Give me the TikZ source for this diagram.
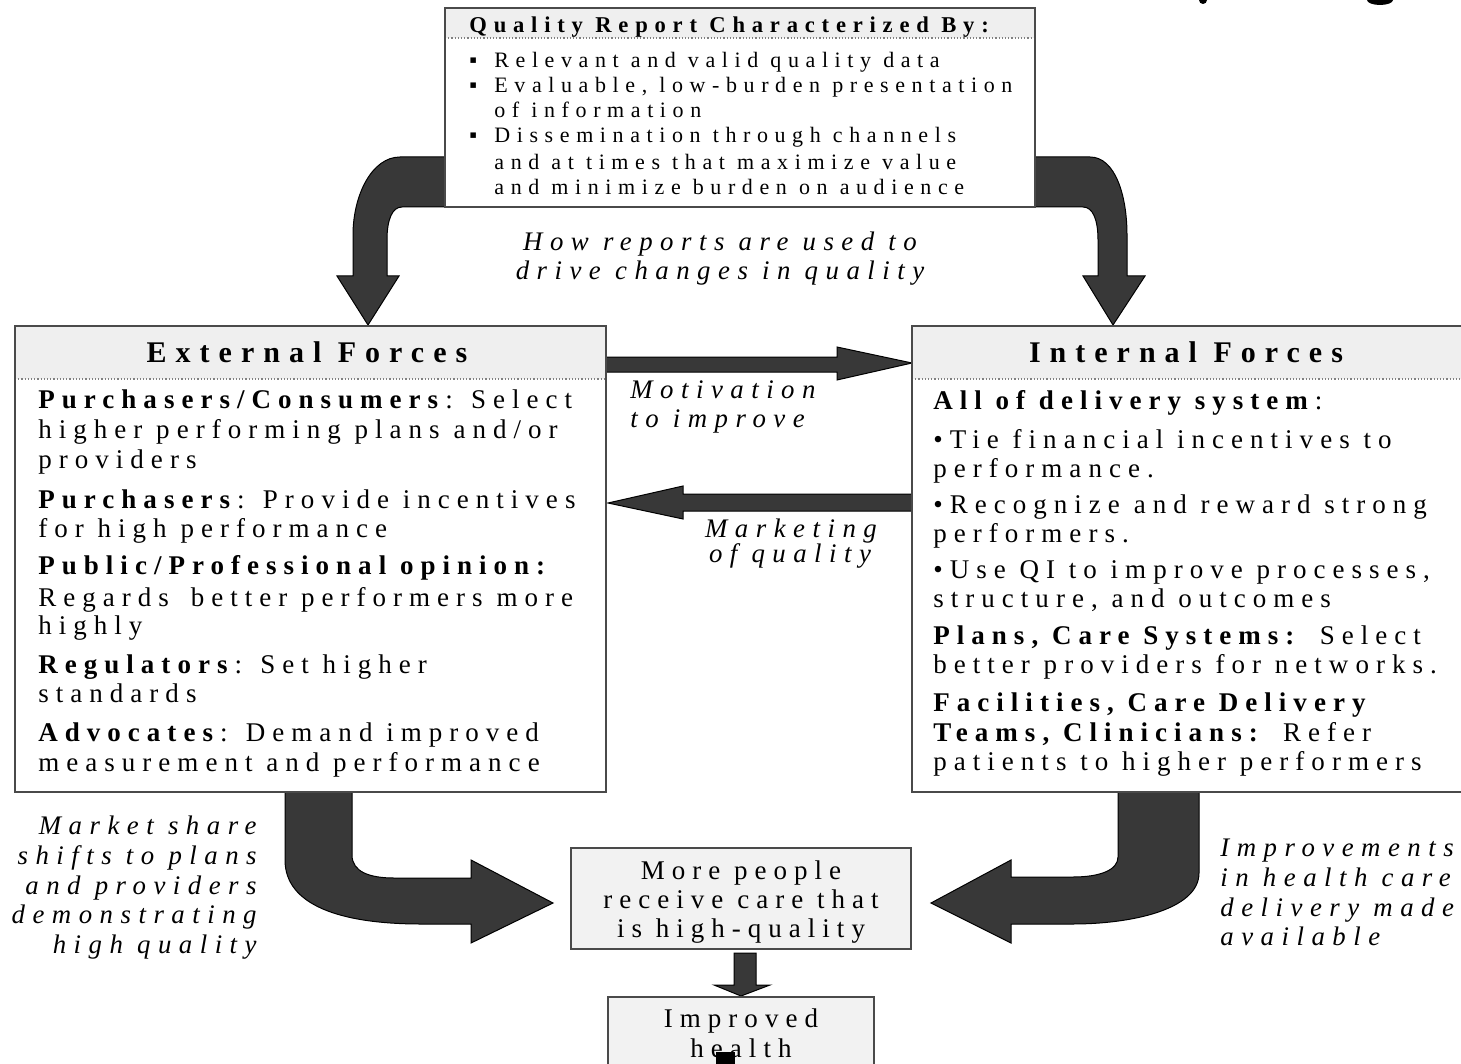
\documentclass[tikz,border=0pt]{standalone}
\usepackage{fontspec}
\setmainfont{Liberation Serif}
\newfontfamily\bodyf{Liberation Serif}[LetterSpace=26]
\newfontfamily\topf{Liberation Serif}[LetterSpace=30]
\newfontfamily\headf{Liberation Serif}[LetterSpace=30]
\newfontfamily\itf{Liberation Serif}[LetterSpace=28]
\definecolor{arrowgray}{HTML}{383838}
\definecolor{bandgray}{HTML}{EFEFEF}
\definecolor{boxline}{HTML}{4A4A4A}
\definecolor{boxfill}{HTML}{F2F2F2}
\begin{document}
\begin{tikzpicture}[x=0.5pt,y=-0.5pt,
  bigarrow/.style={fill=arrowgray,draw=black,line width=0.5pt},
  frame/.style={draw=boxline,line width=1pt},
  band/.style={fill=bandgray},
  sep/.style={draw=gray,densely dotted,line width=0.6pt},
  ln/.style={anchor=base west,inner sep=0pt,font=\bodyf\fontsize{13.5}{16}\selectfont},
  tl/.style={anchor=base west,inner sep=0pt,font=\topf\fontsize{11}{13}\selectfont},
  hd/.style={anchor=base,inner sep=0pt,font=\headf\bfseries\fontsize{15}{17}\selectfont},
  labw/.style={anchor=base west,inner sep=0pt,font=\itf\itshape\fontsize{13.4}{16}\selectfont},
  labe/.style={anchor=base east,inner sep=0pt,font=\itf\itshape\fontsize{13.4}{16}\selectfont},
  labc/.style={anchor=base,inner sep=0pt,font=\itf\itshape\fontsize{13.4}{16}\selectfont},
  ctr/.style={anchor=base,inner sep=0pt,font=\bodyf\fontsize{13.5}{16}\selectfont}]
\useasboundingbox (0,0) rectangle (1461,1064);
\clip (0,0) rectangle (1461,1064);
\fill[white] (0,0) rectangle (1461,1064);

% cut-off marks at top right
\fill (1203,0) ellipse (4 and 4);
\fill (1380,0) ellipse (13 and 5);

% ---------- big arrows ----------
% top left
\path[bigarrow] (447,157) -- (400,157) .. controls (372,157) and (353,195) .. (353,235)
  -- (353,276) -- (337,276) -- (368,325) -- (399,276) -- (387,276) -- (387,240)
  .. controls (387,220) and (392,207) .. (402,207) -- (447,207) -- cycle;
% top right
\path[bigarrow] (1033,157) -- (1090,157) .. controls (1115,157) and (1127,195) .. (1127,235)
  -- (1127,276) -- (1145,276) -- (1113,325) -- (1083,276) -- (1098,276) -- (1098,240)
  .. controls (1098,220) and (1093,207) .. (1083,207) -- (1033,207) -- cycle;
% motivation
\path[bigarrow] (606,357) -- (837,357) -- (837,347) -- (912,363) -- (837,380) -- (837,372) -- (606,372) -- cycle;
% marketing
\path[bigarrow] (912,494) -- (683,494) -- (683,486) -- (608,503) -- (683,519) -- (683,511) -- (912,511) -- cycle;
% bottom left
\path[bigarrow] (285,792) -- (285,860) .. controls (285,905) and (340,924) .. (421,924)
  -- (471,924) -- (471,943) -- (553,903) -- (471,860) -- (471,878) -- (394,878)
  .. controls (370,878) and (352,872) .. (352,855) -- (352,792) -- cycle;
% bottom right
\path[bigarrow] (1199,792) -- (1199,873) .. controls (1199,910) and (1130,924) .. (1073,924)
  -- (1011,924) -- (1011,943) -- (931,903) -- (1011,860) -- (1011,877) -- (1073,877)
  .. controls (1100,877) and (1118,870) .. (1118,857) -- (1118,792) -- cycle;
% small down arrow
\path[bigarrow] (734,953) -- (756,953) -- (756,985) -- (770,985) -- (741,996) -- (714,985) -- (734,985) -- cycle;

% ---------- top box ----------
\fill[white] (445,8) rectangle (1035,207);
\fill[band] (445,8) rectangle (1035,38);
\draw[sep] (445,38) -- (1035,38);
\draw[frame] (445,8) rectangle (1035,207);
\node[anchor=base west,inner sep=0pt,font=\topf\bfseries\fontsize{11.3}{13}\selectfont] (qtitle) at (469,33) {Quality Report Characterized By:};
\node[tl] (qb1) at (469,68) {▪};
\node[tl] (qb2) at (469,93) {▪};
\node[tl] (qb3) at (469,143) {▪};
\node[tl] (q1) at (494,68) {Relevant and valid quality data};
\node[tl] (q2) at (494,93) {Evaluable, low-burden presentation};
\node[tl] (q3) at (494,118) {of information};
\node[tl] (q4) at (494,143) {Dissemination through channels};
\node[tl] (q5) at (494,170) {and at times that maximize value};
\node[tl] (q6) at (494,195) {and minimize burden on audience};

% ---------- external forces ----------
\fill[white] (15,326) rectangle (606,792);
\fill[band] (15,326) rectangle (606,379);
\draw[sep] (15,379) -- (606,379);
\draw[frame] (15,326) rectangle (606,792);
\node[hd] (extitle) at (307,362) {External Forces};
\node[ln] (e1) at (38,408) {\textbf{Purchasers/Consumers}: Select};
\node[ln] (e2) at (38,438) {higher performing plans and/or};
\node[ln] (e3) at (38,468) {providers};
\node[ln] (e4) at (38,508) {\textbf{Purchasers}: Provide incentives};
\node[ln] (e5) at (38,537) {for high performance};
\node[ln] (e6) at (38,574) {\textbf{Public/Professional opinion:}};
\node[ln] (e7) at (38,606) {Regards\hspace{4pt} better performers more};
\node[ln] (e8) at (38,634) {highly};
\node[ln] (e9) at (38,673) {\textbf{Regulators}: Set higher};
\node[ln] (e10) at (38,702) {standards};
\node[ln] (e11) at (38,741) {\textbf{Advocates}: Demand improved};
\node[ln] (e12) at (38,771) {measurement and performance};

% ---------- internal forces ----------
\fill[white] (912,326) rectangle (1480,792);
\fill[band] (912,326) rectangle (1480,379);
\draw[sep] (912,379) -- (1480,379);
\draw[frame] (912,326) rectangle (1480,792);
\node[hd] (intitle) at (1186,362) {Internal Forces};
\node[ln] (i1) at (933,409) {\textbf{All of delivery system}:};
\node[ln] (i2) at (933,448) {•Tie financial incentives to};
\node[ln] (i3) at (933,477) {performance.};
\node[ln] (i4) at (933,513) {•Recognize and reward strong};
\node[ln] (i5) at (933,542) {performers.};
\node[ln] (i6) at (933,578) {•Use QI to improve processes,};
\node[ln] (i7) at (933,607) {structure, and outcomes};
\node[ln] (i8) at (933,644) {\textbf{Plans, Care Systems:} Select};
\node[ln] (i9) at (933,673) {better providers for networks.};
\node[ln] (i10) at (933,711) {\textbf{Facilities, Care Delivery}};
\node[ln] (i11) at (933,741) {\textbf{Teams, Clinicians:} Refer};
\node[ln] (i12) at (933,770) {patients to higher performers};

% ---------- outcome boxes ----------
\draw[frame,fill=boxfill] (571,848) rectangle (911,949);
\node[ctr] (m1) at (741,879) {More people};
\node[ctr] (m2) at (741,908) {receive care that};
\node[ctr] (m3) at (741,937) {is high-quality};
\draw[frame,fill=boxfill] (608,997) rectangle (874,1090);
\node[ctr] (h1) at (741,1027) {Improved};
\node[ctr] (h2) at (741,1057) {health};
\fill[black] (716,1052) rectangle (735,1070);

% ---------- labels ----------
\node[labc] (lh1) at (720,250) {How reports are used to};
\node[labc] (lh2) at (720,279) {drive changes in quality};
\node[labw] (lm1) at (630,398) {Motivation};
\node[labw] (lm2) at (630,427) {to improve};
\node[labc] (lk1) at (791,537) {Marketing};
\node[labc] (lk2) at (790,562) {of quality};
\node[labe] (ls1) at (257,834) {Market share};
\node[labe] (ls2) at (257,864) {shifts to plans};
\node[labe] (ls3) at (257,894) {and providers};
\node[labe] (ls4) at (257,923) {demonstrating};
\node[labe] (ls5) at (257,953) {high quality};
\node[labw] (lr1) at (1220,856) {Improvements};
\node[labw] (lr2) at (1220,886) {in health care};
\node[labw] (lr3) at (1220,916) {delivery made};
\node[labw] (lr4) at (1220,945) {available};
\end{tikzpicture}
\end{document}
